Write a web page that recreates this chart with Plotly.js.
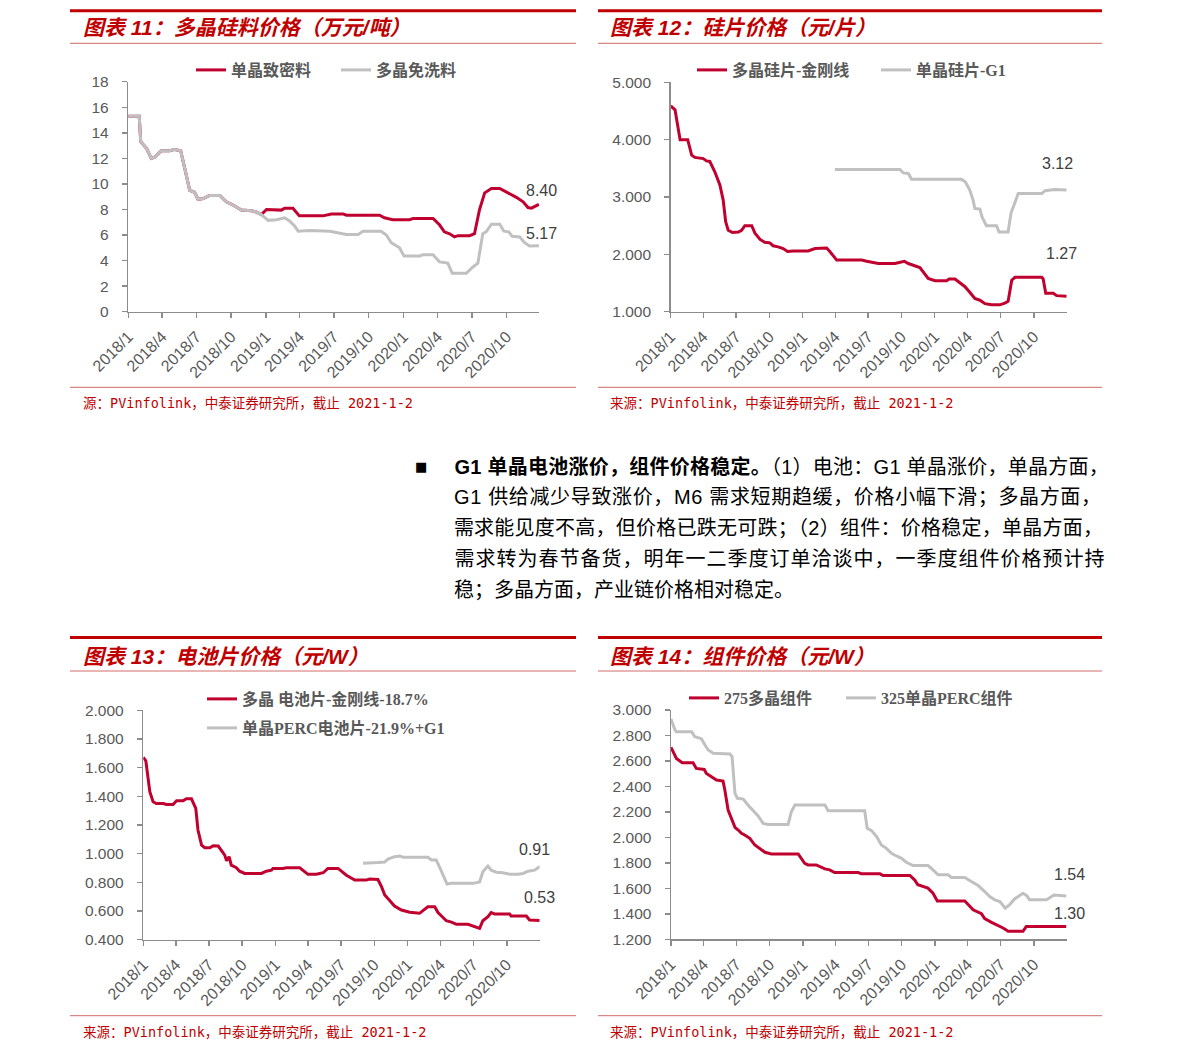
<!DOCTYPE html>
<html><head><meta charset="utf-8">
<script src="https://cdn.plot.ly/plotly-3.0.1.min.js"></script>
<style>html,body{margin:0;padding:0;background:#fff}#chart{width:1191px;height:1059px}
.annotation[data-index="17"] text{letter-spacing:0.25px}
.annotation[data-index="18"] text{letter-spacing:0.65px}
.annotation[data-index="19"] text{letter-spacing:0.25px}
.annotation[data-index="20"] text{letter-spacing:1px}
</style>
</head><body><div id="chart"></div>
<script>
// ---------- 图表11 多晶硅料价格（万元/吨）----------
const denseDates = ['2018-01-01','2018-01-30','2018-02-03','2018-02-18','2018-03-03','2018-03-12','2018-03-30','2018-04-21','2018-05-04','2018-05-20','2018-05-31','2018-06-13','2018-06-26','2018-07-05','2018-07-19','2018-08-05','2018-09-01','2018-09-18','2018-10-06','2018-10-28','2018-11-24','2018-12-07','2018-12-20',
 '2018-12-25','2019-01-03','2019-02-11','2019-02-20','2019-03-14','2019-03-31','2019-06-02','2019-06-24','2019-07-25','2019-08-03','2019-10-30','2019-11-12','2019-12-04','2020-01-18','2020-01-27','2020-03-20','2020-04-06','2020-04-19','2020-05-03','2020-05-16','2020-05-25','2020-06-25','2020-07-08','2020-07-21','2020-08-04','2020-08-22','2020-09-13','2020-09-30','2020-10-27','2020-11-14','2020-11-27','2020-12-06','2020-12-26'];
const denseVals = [15.3,15.3,13.3,12.8,12.0,12.1,12.6,12.6,12.7,12.6,11.2,9.5,9.35,8.8,8.85,9.1,9.1,8.6,8.35,7.95,7.9,7.8,7.6,
 7.75,8.0,7.95,8.1,8.1,7.5,7.5,7.65,7.65,7.55,7.55,7.35,7.2,7.2,7.3,7.3,6.8,6.25,6.1,5.85,5.95,5.95,6.1,7.95,9.3,9.65,9.65,9.4,8.95,8.6,8.15,8.1,8.4];
const washDates = ['2018-01-01','2018-01-30','2018-02-03','2018-02-18','2018-03-03','2018-03-12','2018-03-30','2018-04-21','2018-05-04','2018-05-20','2018-05-31','2018-06-13','2018-06-26','2018-07-05','2018-07-19','2018-08-05','2018-09-01','2018-09-18','2018-10-06','2018-10-28','2018-11-24','2018-12-07','2018-12-20',
 '2019-01-07','2019-01-29','2019-02-20','2019-03-05','2019-03-19','2019-03-28','2019-04-28','2019-06-20','2019-07-07','2019-08-03','2019-09-03','2019-09-16','2019-11-03','2019-11-17','2019-11-30','2019-12-22','2020-01-03','2020-02-13','2020-02-22','2020-03-20','2020-04-06','2020-04-28','2020-05-10','2020-06-16','2020-07-04','2020-07-17','2020-07-30','2020-08-08','2020-08-22','2020-09-13','2020-09-24','2020-10-07','2020-10-16','2020-11-05','2020-11-18','2020-12-01','2020-12-26'];
const washVals = [15.3,15.3,13.3,12.8,12.0,12.1,12.6,12.6,12.7,12.6,11.2,9.5,9.35,8.8,8.85,9.1,9.1,8.6,8.35,7.95,7.9,7.8,7.6,
 7.15,7.2,7.35,7.1,6.7,6.3,6.35,6.3,6.2,6.05,6.05,6.3,6.3,6.0,5.4,5.0,4.35,4.35,4.45,4.45,3.9,3.8,3.0,3.0,3.5,3.8,6.1,6.25,6.85,6.85,6.3,6.25,5.9,5.85,5.4,5.15,5.17];

// ---------- 图表12 硅片价格（元/片）----------
const polyWaferDates = ['2018-01-01','2018-01-13','2018-01-27','2018-02-17','2018-02-28','2018-03-09','2018-04-01','2018-04-10','2018-04-19','2018-05-03','2018-05-17','2018-05-26','2018-06-02','2018-06-09','2018-06-21','2018-07-07','2018-07-16','2018-07-25','2018-08-13','2018-08-22','2018-09-05','2018-09-18','2018-10-02','2018-10-11','2018-10-25','2018-11-08','2018-11-20','2018-12-06','2019-01-16','2019-02-04','2019-03-08','2019-03-17','2019-04-05','2019-06-13','2019-06-27','2019-07-20','2019-07-29','2019-09-13','2019-09-22','2019-10-09','2019-10-20','2019-11-07','2019-11-21','2019-12-14','2020-01-02','2020-02-03','2020-02-10','2020-02-26','2020-03-11','2020-03-24','2020-04-07','2020-04-21','2020-05-05','2020-05-19','2020-06-06','2020-06-29','2020-07-13','2020-07-22','2020-08-01','2020-08-10','2020-10-23','2020-10-27','2020-11-03','2020-11-24','2020-12-03','2020-12-31'];
const polyWaferVals = [4.59,4.52,4.0,4.0,3.73,3.69,3.67,3.63,3.62,3.44,3.21,2.95,2.57,2.42,2.38,2.39,2.42,2.5,2.5,2.37,2.26,2.21,2.2,2.15,2.13,2.1,2.05,2.06,2.06,2.1,2.11,2.05,1.9,1.9,1.88,1.85,1.84,1.84,1.85,1.88,1.84,1.8,1.77,1.58,1.54,1.54,1.57,1.57,1.5,1.44,1.34,1.23,1.2,1.14,1.12,1.12,1.15,1.18,1.55,1.6,1.6,1.57,1.32,1.32,1.28,1.27];
const monoWaferDates = ['2019-03-31','2019-09-27','2019-10-06','2019-10-20','2019-10-29','2020-03-15','2020-03-26','2020-04-07','2020-04-16','2020-04-21','2020-05-05','2020-05-11','2020-05-23','2020-06-20','2020-06-27','2020-07-22','2020-07-30','2020-08-08','2020-08-19','2020-10-23','2020-11-01','2020-11-28','2020-12-31'];
const monoWaferVals = [3.48,3.48,3.42,3.41,3.31,3.31,3.26,3.12,2.95,2.8,2.79,2.65,2.5,2.5,2.39,2.39,2.72,2.89,3.06,3.06,3.11,3.13,3.12];

// ---------- 图表13 电池片价格（元/W）----------
const polyCellDates = ['2018-01-01','2018-01-08','2018-01-19','2018-01-28','2018-02-06','2018-02-25','2018-03-06','2018-03-24','2018-04-03','2018-04-21','2018-04-30','2018-05-14','2018-05-26','2018-06-01','2018-06-11','2018-06-20','2018-07-04','2018-07-13','2018-07-27','2018-08-05','2018-08-14','2018-08-19','2018-08-26','2018-09-01','2018-09-15','2018-09-24','2018-10-08','2018-11-23','2018-12-07','2018-12-21','2018-12-25','2019-01-22','2019-01-31','2019-03-09','2019-03-18','2019-04-01','2019-04-24','2019-05-13','2019-05-26','2019-06-23','2019-07-16','2019-08-08','2019-09-09','2019-09-18','2019-10-11','2019-10-21','2019-10-30','2019-11-12','2019-11-26','2019-12-15','2020-01-07','2020-02-03','2020-02-17','2020-02-26','2020-03-16','2020-03-25','2020-04-03','2020-04-17','2020-05-01','2020-05-15','2020-06-16','2020-06-25','2020-07-07','2020-07-18','2020-07-27','2020-08-10','2020-08-19','2020-08-28','2020-10-09','2020-10-13','2020-11-24','2020-12-03','2020-12-31'];
const polyCellVals = [1.672,1.648,1.432,1.362,1.35,1.35,1.343,1.343,1.369,1.369,1.383,1.383,1.316,1.165,1.06,1.041,1.041,1.055,1.053,1.025,0.99,0.95,0.979,0.92,0.902,0.878,0.862,0.862,0.878,0.885,0.897,0.897,0.902,0.902,0.885,0.856,0.856,0.867,0.897,0.897,0.85,0.816,0.816,0.823,0.82,0.77,0.712,0.677,0.635,0.607,0.591,0.584,0.614,0.63,0.63,0.589,0.567,0.532,0.523,0.507,0.507,0.498,0.486,0.479,0.532,0.56,0.589,0.58,0.58,0.565,0.565,0.537,0.534];
const percCellDates = ['2019-08-31','2019-10-02','2019-10-11','2019-10-30','2019-11-08','2019-11-26','2019-12-10','2019-12-19','2020-02-26','2020-03-07','2020-03-20','2020-03-31','2020-04-09','2020-04-19','2020-05-01','2020-06-30','2020-07-18','2020-07-27','2020-08-10','2020-08-19','2020-09-02','2020-09-20','2020-10-09','2020-11-01','2020-11-15','2020-11-29','2020-12-17','2020-12-31'];
const percCellVals = [0.933,0.933,0.938,0.942,0.963,0.979,0.984,0.975,0.975,0.956,0.956,0.897,0.844,0.788,0.793,0.793,0.802,0.874,0.914,0.885,0.871,0.867,0.856,0.856,0.862,0.878,0.885,0.91];

// ---------- 图表14 组件价格（元/W）----------
const polyModDates = ['2018-01-01','2018-01-16','2018-02-01','2018-03-03','2018-03-12','2018-03-26','2018-04-03','2018-04-09','2018-04-23','2018-05-07','2018-05-25','2018-05-30','2018-06-08','2018-06-17','2018-06-27','2018-07-06','2018-07-15','2018-07-24','2018-08-07','2018-08-21','2018-09-04','2018-09-18','2018-10-06','2018-12-19','2019-01-06','2019-01-15','2019-02-07','2019-03-03','2019-03-16','2019-03-30','2019-06-03','2019-06-12','2019-08-02','2019-08-11','2019-10-24','2019-11-06','2019-11-15','2019-11-29','2019-12-13','2019-12-27','2020-01-08','2020-03-24','2020-04-02','2020-04-16','2020-05-09','2020-05-18','2020-06-06','2020-06-24','2020-07-08','2020-07-22','2020-09-01','2020-09-10','2020-12-30'];
const polyModVals = [2.707,2.62,2.586,2.586,2.541,2.533,2.533,2.502,2.476,2.45,2.442,2.372,2.215,2.15,2.079,2.058,2.032,2.019,1.993,1.94,1.914,1.883,1.87,1.87,1.797,1.784,1.784,1.753,1.745,1.724,1.724,1.714,1.714,1.701,1.701,1.667,1.628,1.615,1.602,1.562,1.5,1.5,1.471,1.432,1.401,1.362,1.333,1.31,1.289,1.263,1.263,1.30,1.30];
const percModDates = ['2018-01-01','2018-01-12','2018-01-16','2018-02-27','2018-03-08','2018-03-26','2018-04-05','2018-04-14','2018-04-28','2018-06-13','2018-06-19','2018-06-27','2018-07-04','2018-07-20','2018-08-02','2018-08-16','2018-08-30','2018-09-13','2018-09-27','2018-11-21','2018-11-30','2018-12-10','2019-03-03','2019-03-12','2019-06-21','2019-06-28','2019-07-10','2019-07-24','2019-08-06','2019-08-20','2019-09-03','2019-09-17','2019-10-01','2019-10-14','2019-11-02','2019-12-13','2019-12-22','2020-01-10','2020-02-07','2020-02-16','2020-03-24','2020-04-11','2020-04-30','2020-05-18','2020-06-01','2020-06-15','2020-06-29','2020-07-14','2020-07-26','2020-08-08','2020-08-22','2020-09-01','2020-09-12','2020-09-19','2020-11-05','2020-11-19','2020-11-26','2020-12-30'];
const percModVals = [2.93,2.843,2.83,2.83,2.79,2.775,2.725,2.686,2.66,2.655,2.634,2.346,2.307,2.301,2.254,2.215,2.168,2.11,2.102,2.102,2.2,2.254,2.254,2.209,2.209,2.071,2.053,2.006,1.94,1.914,1.875,1.854,1.836,1.805,1.779,1.779,1.758,1.706,1.706,1.685,1.685,1.654,1.622,1.575,1.536,1.51,1.497,1.445,1.471,1.515,1.541,1.562,1.541,1.51,1.51,1.536,1.547,1.54];

// ---------- texts ----------
const titles = ['图表 11：多晶硅料价格（万元/吨）','图表 12：硅片价格（元/片）','图表 13：电池片价格（元/W）','图表 14：组件价格（元/W）'];
const sources = ['源：PVinfolink，中泰证券研究所，截止 2021-1-2','来源：PVinfolink，中泰证券研究所，截止 2021-1-2','来源：PVinfolink，中泰证券研究所，截止 2021-1-2','来源：PVinfolink，中泰证券研究所，截止 2021-1-2'];
const seriesNames = [['单晶致密料','多晶免洗料'],['多晶硅片-金刚线','单晶硅片-G1'],['多晶 电池片-金刚线-18.7%','单晶PERC电池片-21.9%+G1'],['275多晶组件','325单晶PERC组件']];
const paragraph = ['<b>G1 单晶电池涨价，组件价格稳定。</b>（1）电池：G1 单晶涨价，单晶方面，',
 'G1 供给减少导致涨价，M6 需求短期趋缓，价格小幅下滑；多晶方面，',
 '需求能见度不高，但价格已跌无可跌；（2）组件：价格稳定，单晶方面，',
 '需求转为春节备货，明年一二季度订单洽谈中，一季度组件价格预计持',
 '稳；多晶方面，产业链价格相对稳定。'];

// ---------- build ----------
const W = 1191, H = 1059;
const px = v => v / W, py = v => 1 - v / H;
const RED = '#C0002F', GRAY = '#C0C0C0', AX = '#8C8C8C';
const CJK = 'Noto Sans CJK SC';
const legFont = {family: 'Liberation Serif, ' + CJK, size: 16, color: '#595959', weight: 700};

function line(x, y, name, color, xa, ya, leg) {
  return {x: x, y: y, name: name, type: 'scatter', mode: 'lines', xaxis: xa, yaxis: ya,
    legend: leg, line: {color: color, width: 3}, hoverinfo: 'skip'};
}
const data = [
  line(denseDates, denseVals, seriesNames[0][0], RED, 'x', 'y', 'legend'),
  line(washDates, washVals, seriesNames[0][1], GRAY, 'x', 'y', 'legend2'),
  line(polyWaferDates, polyWaferVals, seriesNames[1][0], RED, 'x2', 'y2', 'legend3'),
  line(monoWaferDates, monoWaferVals, seriesNames[1][1], GRAY, 'x2', 'y2', 'legend4'),
  line(polyCellDates, polyCellVals, seriesNames[2][0], RED, 'x3', 'y3', 'legend5'),
  line(percCellDates, percCellVals, seriesNames[2][1], GRAY, 'x3', 'y3', 'legend6'),
  line(polyModDates, polyModVals, seriesNames[3][0], RED, 'x4', 'y4', 'legend7'),
  line(percModDates, percModVals, seriesNames[3][1], GRAY, 'x4', 'y4', 'legend8')
];

const axBase = {showline: true, linecolor: AX, linewidth: 1.5, ticks: 'outside', ticklen: 5, tickcolor: AX, tickwidth: 1.5,
  showgrid: false, zeroline: false, fixedrange: true};
function xax(anchor, x0, x1, end) {
  return Object.assign({}, axBase, {type: 'date', anchor: anchor, domain: [px(x0), px(x1)], range: ['2018-01-01', end],
    tick0: '2018-01-01', dtick: 'M3', tickformat: '%Y/%-m', tickangle: -45, ticklabelstandoff: 3,
    tickfont: {family: 'Liberation Sans, Arial, sans-serif', size: 16, color: '#595959'}});
}
function yax(anchor, ytop, ybot, range, dtick, fmt) {
  return Object.assign({}, axBase, {anchor: anchor, domain: [py(ybot), py(ytop)], range: range, dtick: dtick, tick0: range[0],
    tickformat: fmt, ticklabelstandoff: 10, tickfont: {family: 'Liberation Sans, Arial, sans-serif', size: 15.5, color: '#595959'}});
}

const shapes = [];
const annotations = [];
function header(x0, x1, yTop, yTitle, yThin, ySrcLine, ySrc, title, src, tx, sx) {
  shapes.push({type: 'line', xref: 'paper', yref: 'paper', x0: px(x0), x1: px(x1), y0: py(yTop), y1: py(yTop), line: {color: '#C00000', width: 3}});
  shapes.push({type: 'line', xref: 'paper', yref: 'paper', x0: px(x0), x1: px(x1), y0: py(yThin), y1: py(yThin), line: {color: '#D46A6A', width: 1}});
  shapes.push({type: 'line', xref: 'paper', yref: 'paper', x0: px(x0), x1: px(x1), y0: py(ySrcLine), y1: py(ySrcLine), line: {color: '#D46A6A', width: 1}});
  annotations.push({xref: 'paper', yref: 'paper', x: px(tx), y: py(yTitle), xanchor: 'left', yanchor: 'middle', showarrow: false,
    text: title, font: {family: 'Liberation Sans, ' + CJK, size: 21, color: '#C00000', weight: 700, style: 'italic'}});
  annotations.push({xref: 'paper', yref: 'paper', x: px(sx), y: py(ySrc), xanchor: 'left', yanchor: 'middle', showarrow: false,
    text: src, font: {family: 'DejaVu Sans Mono, ' + CJK, size: 13.5, color: '#C00000'}});
}
header(70, 576, 10.7, 28, 43.3, 387.3, 403.3, titles[0], sources[0], 81, 81);
header(598, 1102, 10.7, 28, 43.3, 387.3, 403.3, titles[1], sources[1], 608, 608);
header(70, 576, 637.5, 656, 671, 1015.7, 1031.7, titles[2], sources[2], 81, 81);
header(598, 1102, 637.5, 656, 671, 1015.7, 1031.7, titles[3], sources[3], 608, 608);

function endLabel(xa, ya, xs, ys, xshift, yshift) {
  annotations.push({xref: xa, yref: ya, x: xs[xs.length - 1], y: ys[ys.length - 1], text: ys[ys.length - 1].toFixed(2),
    showarrow: false, xanchor: 'center', yanchor: 'middle', xshift: xshift, yshift: yshift,
    font: {family: 'Liberation Sans, Arial, sans-serif', size: 16, color: '#404040'}});
}
endLabel('x', 'y', denseDates, denseVals, 3, 14);
endLabel('x', 'y', washDates, washVals, 3, 12);
endLabel('x2', 'y2', monoWaferDates, monoWaferVals, -9, 27);
endLabel('x2', 'y2', polyWaferDates, polyWaferVals, -5, 43);
endLabel('x3', 'y3', percCellDates, percCellVals, -5, 17);
endLabel('x3', 'y3', polyCellDates, polyCellVals, 0, 23);
endLabel('x4', 'y4', percModDates, percModVals, 3, 21);
endLabel('x4', 'y4', polyModDates, polyModVals, 3, 13);

// paragraph (bullet = index 16, lines = 17..21); letter-spacing set in CSS grows text around its centre,
// so each line is shifted right by half of the added width to keep its left edge fixed.
annotations.push({xref: 'paper', yref: 'paper', x: px(413), y: py(466), xanchor: 'left', yanchor: 'middle', showarrow: false,
  text: '■', font: {family: 'DejaVu Sans', size: 13, color: '#000'}});
const lineY = [466, 497, 528, 559, 590];
const lineShift = [4.5, 11, 4.1, 15.5, 0];
paragraph.forEach((t, i) => annotations.push({xref: 'paper', yref: 'paper', x: px(452), y: py(lineY[i]), xanchor: 'left', yanchor: 'middle',
  xshift: lineShift[i], showarrow: false, text: t, font: {family: 'Liberation Sans, ' + CJK, size: 20, color: '#000'}}));

function leg(x, y) {
  return {orientation: 'h', xanchor: 'left', yanchor: 'middle', x: px(x), y: py(y), bgcolor: 'rgba(0,0,0,0)', font: legFont};
}

const layout = {
  width: W, height: H, margin: {l: 0, r: 0, t: 0, b: 0}, paper_bgcolor: '#fff', plot_bgcolor: 'rgba(0,0,0,0)',
  showlegend: true,
  xaxis: xax('y', 128.3, 539.3, '2020-12-27'),
  yaxis: yax('x', 81.7, 311.7, [0, 18], 2, 'd'),
  xaxis2: xax('y2', 670.7, 1066.7, '2020-12-31'),
  yaxis2: yax('x2', 82.3, 311.7, [1, 5], 1, '.3f'),
  xaxis3: xax('y3', 143.3, 539.7, '2020-12-31'),
  yaxis3: yax('x3', 710.3, 939.7, [0.4, 2.0], 0.2, '.3f'),
  xaxis4: xax('y4', 671, 1066.7, '2020-12-31'),
  yaxis4: yax('x4', 710, 939.3, [1.2, 3.0], 0.2, '.3f'),
  legend: leg(191, 70), legend2: leg(336, 70),
  legend3: leg(692, 70), legend4: leg(876, 70),
  legend5: leg(202, 699), legend6: leg(202, 728),
  legend7: leg(684, 698), legend8: leg(841, 698),
  shapes: shapes,
  annotations: annotations
};

Plotly.newPlot('chart', data, layout, {displayModeBar: false, staticPlot: true});
</script></body></html>
